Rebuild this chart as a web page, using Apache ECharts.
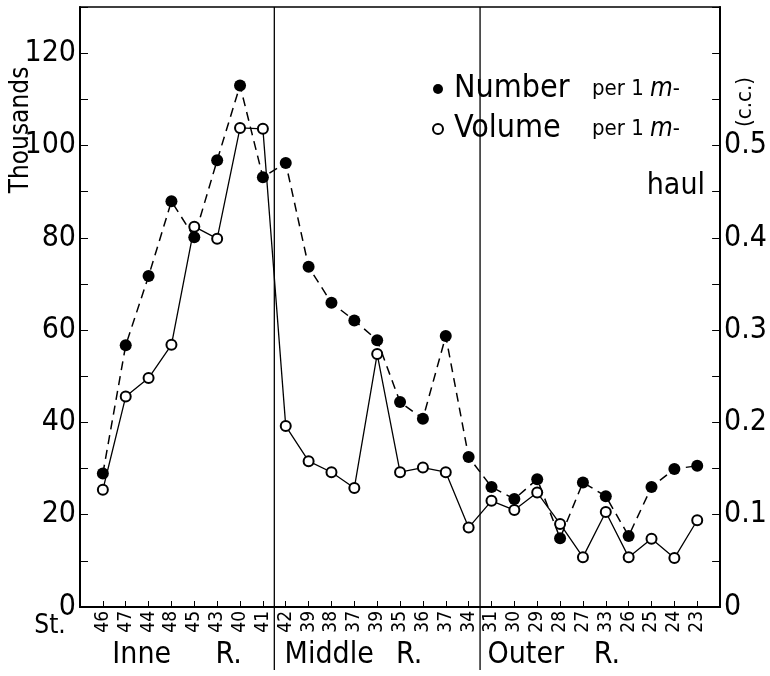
<!DOCTYPE html>
<html>
<head>
<meta charset="utf-8">
<script src="https://cdn.jsdelivr.net/npm/echarts@6/dist/echarts.min.js"></script>
<style>
html,body{margin:0;padding:0;background:#fff}
#chart{width:770px;height:676px}
</style>
</head>
<body>
<div id="chart"></div>
<script>
// stations along the river, in plotted order
var stations = ['46','47','44','48','45','43','40','41','42','39','38','37','39','35','36','37','34','31','30','29','28','27','33','26','25','24','23'];
// number per 1 m- haul (thousands)
var numberVals = [28.9,56.7,71.7,87.9,80.1,96.8,113,93.1,96.2,73.7,65.9,62.1,57.8,44.4,40.8,58.7,32.5,26.0,23.4,27.7,14.9,27.0,24.0,15.4,26.0,29.9,30.6];
// volume per 1 m- haul (c.c.)
var volumeVals = [0.127,0.228,0.248,0.284,0.412,0.399,0.519,0.518,0.196,0.158,0.146,0.129,0.274,0.146,0.151,0.146,0.086,0.115,0.105,0.124,0.090,0.054,0.103,0.054,0.074,0.053,0.094];
// borders between Inner / Middle / Outer regions (between station indexes)
var regionBounds = [8.5, 17.5];
var regionNames = ['Inne', 'R.', 'Middle', 'R.', 'Outer', 'R.'];

var font = '"Liberation Sans Narrow","DejaVu Sans Condensed",sans-serif';
var chart = echarts.init(document.getElementById('chart'));

var option = {
    animation: false,
    backgroundColor: '#fff',
    grid: {
        left: 80, right: 40, top: 7, bottom: 69,
        show: true, borderColor: '#000', borderWidth: 1.5
    },
    legend: {
        orient: 'vertical',
        left: 427,
        top: 68,
        itemWidth: 10,
        itemHeight: 10,
        itemGap: 8,
        selectedMode: false,
        textStyle: {
            fontFamily: font,
            color: '#000',
            padding: [0,0,0,6],
            rich: {
                n: {fontSize: 32, fontFamily: font, width: 138, color: '#000'},
                p: {fontSize: 22, fontFamily: font, color: '#000'},
                m: {fontSize: 26, fontFamily: font, fontStyle: 'italic', color: '#000'}
            }
        },
        formatter: function (name) {
            return '{n|' + name + '}{p|per 1 }{m|m}{p|-}';
        },
        data: [
            {name: 'Number', icon: 'circle', itemStyle: {color: '#000', borderWidth: 0}},
            {name: 'Volume', icon: 'emptyCircle', itemStyle: {color: '#000', borderColor: '#000', borderWidth: 1.3}}
        ]
    },
    xAxis: {
        type: 'value',
        min: 0,
        max: 28,
        interval: 1,
        axisLine: {show: true, lineStyle: {color: '#000', width: 2}},
        axisTick: {show: true, inside: true, length: 6, lineStyle: {color: '#000', width: 1}},
        splitLine: {show: false},
        axisLabel: {
            rotate: 90,
            margin: 4,
            fontSize: 19,
            fontFamily: font,
            color: '#000',
            formatter: function (v) {
                return stations[v - 1] || '';
            }
        }
    },
    yAxis: [{
        type: 'value',
        min: 0,
        max: 130,
        interval: 10,
        axisLine: {show: true, lineStyle: {color: '#000', width: 2}},
        axisTick: {show: true, inside: true, length: 8, lineStyle: {color: '#000', width: 1}},
        splitLine: {show: false},
        axisLabel: {
            margin: 4,
            fontSize: 30,
            fontFamily: font,
            color: '#000',
            formatter: function (v) {
                return v % 20 === 0 && v <= 120 ? String(v) : '';
            }
        }
    }, {
        type: 'value',
        min: 0,
        max: 0.65,
        interval: 0.05,
        position: 'right',
        axisLine: {show: true, lineStyle: {color: '#000', width: 2}},
        axisTick: {show: true, inside: true, length: 8, lineStyle: {color: '#000', width: 1}},
        splitLine: {show: false},
        axisLabel: {
            margin: 4,
            fontSize: 30,
            fontFamily: font,
            color: '#000',
            formatter: function (v) {
                var k = Math.round(v * 100);
                if (k % 10 !== 0 || k > 50) return '';
                return k === 0 ? '0' : (k / 100).toFixed(1);
            }
        }
    }],
    series: [{
        name: 'Number',
        type: 'line',
        yAxisIndex: 0,
        symbol: 'circle',
        symbolSize: 12,
        itemStyle: {color: '#000'},
        lineStyle: {color: '#000', width: 1.5, type: [9, 6]},
        data: numberVals.map(function (v, i) { return [i + 1, v]; }),
        z: 3
    }, {
        name: 'Volume',
        type: 'line',
        yAxisIndex: 1,
        symbol: 'emptyCircle',
        symbolSize: 10,
        itemStyle: {color: '#000', borderWidth: 1.5},
        lineStyle: {color: '#000', width: 1.3},
        data: volumeVals.map(function (v, i) { return [i + 1, v]; }),
        z: 4
    }]
};
chart.setOption(option);

// region separators and labels under the axis
var topY = chart.convertToPixel({yAxisIndex: 0}, 130);
var baseY = chart.convertToPixel({yAxisIndex: 0}, 0);
var gfx = [];
regionBounds.forEach(function (b) {
    var x = chart.convertToPixel({xAxisIndex: 0}, b);
    gfx.push({type: 'line', shape: {x1: x, y1: topY, x2: x, y2: baseY + 63},
        style: {stroke: '#000', lineWidth: 1.3}, z: 2});
});
// label centres, in station-index units
var namePos = [2.7, 6.5, 10.9, 14.4, 19.5, 23.05];
regionNames.forEach(function (t, i) {
    gfx.push({type: 'text', x: chart.convertToPixel({xAxisIndex: 0}, namePos[i]), y: baseY + 48,
        style: {text: t, font: '30px ' + font, fill: '#000', textAlign: 'center', textVerticalAlign: 'middle'}});
});
gfx.push({type: 'text', x: 50, y: baseY + 19,
    style: {text: 'St.', font: '26px ' + font, fill: '#000', textAlign: 'center', textVerticalAlign: 'middle'}});
gfx.push({type: 'text', x: 21, y: 130, rotation: Math.PI / 2,
    style: {text: 'Thousands', font: '26px ' + font, fill: '#000', textAlign: 'center', textVerticalAlign: 'middle'}});
gfx.push({type: 'text', x: 745, y: 102, rotation: Math.PI / 2,
    style: {text: '(c.c.)', font: '22px ' + font, fill: '#000', textAlign: 'center', textVerticalAlign: 'middle'}});
gfx.push({type: 'text', x: 705, y: 186,
    style: {text: 'haul', font: '30px ' + font, fill: '#000', textAlign: 'right', textVerticalAlign: 'middle'}});
chart.setOption({graphic: gfx});
</script>
</body>
</html>
